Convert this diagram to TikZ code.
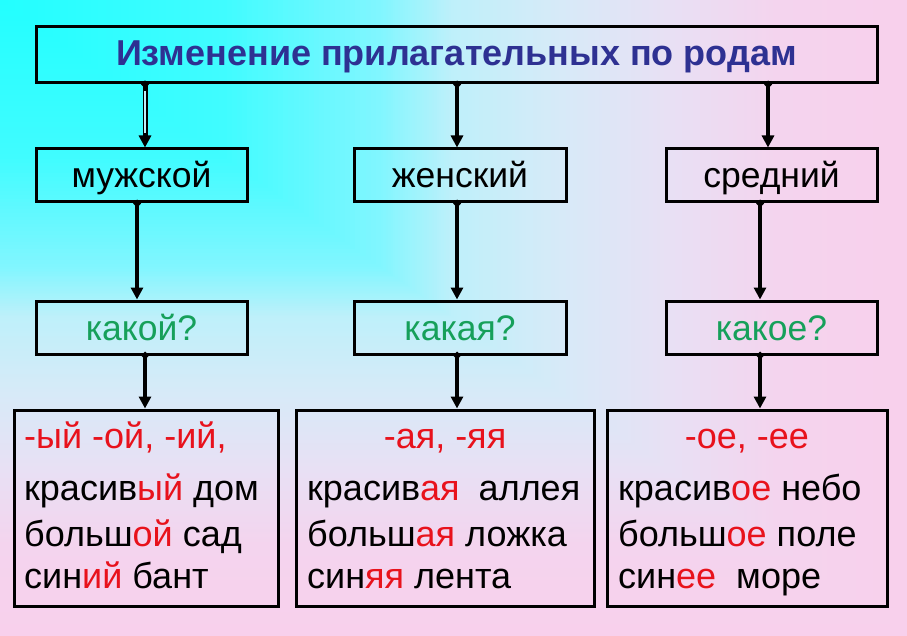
\documentclass[tikz,border=0pt]{standalone}
\usepackage{fontspec}
\setmainfont{Liberation Sans}
\usetikzlibrary{arrows.meta}
\definecolor{bgA}{RGB}{34,255,255}
\definecolor{bgB}{RGB}{64,252,255}
\definecolor{bgC}{RGB}{128,246,255}
\definecolor{bgD}{RGB}{190,240,250}
\definecolor{bgE}{RGB}{215,234,248}
\definecolor{bgF}{RGB}{232,224,244}
\definecolor{bgG}{RGB}{244,212,238}
\definecolor{bgH}{RGB}{248,208,236}
\definecolor{titleblue}{RGB}{46,49,146}
\definecolor{qgreen}{RGB}{22,160,90}
\definecolor{endred}{RGB}{232,18,28}
\newcommand{\redpart}[1]{\textcolor{endred}{#1}}
% rectangular gradient from the top-left corner: segment from t0 to t1, colours A to B
\newcommand{\bgseg}[4]{%
  \foreach \k in {0,...,29} {%
    \pgfmathsetmacro{\bgT}{#2-(#2-#1)*\k/30}%
    \pgfmathsetmacro{\bgP}{100*(\bgT-#1)/(#2-#1)}%
    \fill[#4!\bgP!#3] (0,0) rectangle ({\bgT*907},{\bgT*636});
  }}
\tikzset{
  box/.style={draw=black, line width=3pt, rectangle, inner sep=0pt, minimum height=53pt},
  lbl/.style={font=\fontsize{35.5}{40}\selectfont, text height=25pt, text depth=0pt},
  conn/.style={line width=3.5pt, {Diamond[length=8pt,width=8pt]}-{Triangle[length=12pt,width=12pt]}},
  body/.style={font=\fontsize{36}{42}\selectfont, inner sep=0pt, anchor=base west},
}
\begin{document}
\begin{tikzpicture}[x=1pt,y=-1pt]
\useasboundingbox (0,0) rectangle (907,636);
\bgseg{0.86}{1.0}{bgG}{bgH}
\bgseg{0.74}{0.86}{bgF}{bgG}
\bgseg{0.62}{0.74}{bgE}{bgF}
\bgseg{0.5}{0.62}{bgD}{bgE}
\bgseg{0.42}{0.5}{bgC}{bgD}
\bgseg{0.25}{0.42}{bgB}{bgC}
\bgseg{0.0}{0.25}{bgA}{bgB}

% title
\node[box, minimum width=841pt, minimum height=56pt, font=\bfseries\fontsize{36}{42}\selectfont, text=titleblue, text height=22pt, text depth=0pt] (title) at (456.5,55) {Изменение прилагательных по родам};

% row 2
\node[box, lbl, minimum width=211pt] (m) at (141.5,175.5) {мужской};
\node[box, lbl, minimum width=212pt] (f) at (460,175.5) {женский};
\node[box, lbl, minimum width=211pt] (n) at (771.5,175.5) {средний};

% row 3
\node[box, lbl, text=qgreen, minimum width=211pt] (qm) at (141.5,327.5) {какой?};
\node[box, lbl, text=qgreen, minimum width=212pt] (qf) at (460,327.5) {какая?};
\node[box, lbl, text=qgreen, minimum width=211pt] (qn) at (771.5,327.5) {какое?};

% row 4 boxes
\node[box, minimum width=264pt, minimum height=196pt] (em) at (146,508) {};
\node[box, minimum width=298pt, minimum height=196pt] (ef) at (445,508) {};
\node[box, minimum width=280pt, minimum height=196pt] (en) at (747,508) {};

% row 4 texts
\node[body] (m1) at (24,448) {\redpart{-ый -ой, -ий,}};
\node[body] (m2) at (24,500) {красив\redpart{ый} дом};
\node[body] (m3) at (24,546) {больш\redpart{ой} сад};
\node[body] (m4) at (24,588) {син\redpart{ий} бант};

\node[body, anchor=base] (f1) at (445,448) {\redpart{-ая, -яя}};
\node[body] (f2) at (307,500) {красив\redpart{ая}\hspace{9pt} аллея};
\node[body] (f3) at (307,546) {больш\redpart{ая} ложка};
\node[body] (f4) at (307,588) {син\redpart{яя} лента};

\node[body, anchor=base] (n1) at (747,448) {\redpart{-ое, -ее}};
\node[body] (n2) at (618,500) {красив\redpart{ое} небо};
\node[body] (n3) at (618,546) {больш\redpart{ое} поле};
\node[body] (n4) at (618,588) {син\redpart{ее}\hspace{10pt} море};

% connector x positions
\coordinate (xa) at (145,0);
\coordinate (xb) at (457,0);
\coordinate (xc) at (768,0);
\coordinate (xd) at (137,0);
\coordinate (xe) at (760,0);

% title -> row 2
\draw[conn, line width=5pt] ([yshift=4pt]title.south -| xa) -- (m.north -| xa);
\draw[line width=1.8pt, bgD] ([yshift=-7pt]title.south -| xa) -- ([yshift=14pt]m.north -| xa);
\draw[conn] ([yshift=4pt]title.south -| xb) -- (f.north -| xb);
\draw[conn] ([yshift=4pt]title.south -| xc) -- (n.north -| xc);

% row 2 -> row 3
\draw[conn] ([yshift=4pt]m.south -| xd) -- (qm.north -| xd);
\draw[conn] ([yshift=4pt]f.south -| xb) -- (qf.north -| xb);
\draw[conn] ([yshift=4pt]n.south -| xe) -- (qn.north -| xe);

% row 3 -> row 4
\draw[conn] ([yshift=4pt]qm.south -| xa) -- (em.north -| xa);
\draw[conn] ([yshift=4pt]qf.south -| xb) -- (ef.north -| xb);
\draw[conn] ([yshift=4pt]qn.south -| xe) -- (en.north -| xe);
\end{tikzpicture}
\end{document}
